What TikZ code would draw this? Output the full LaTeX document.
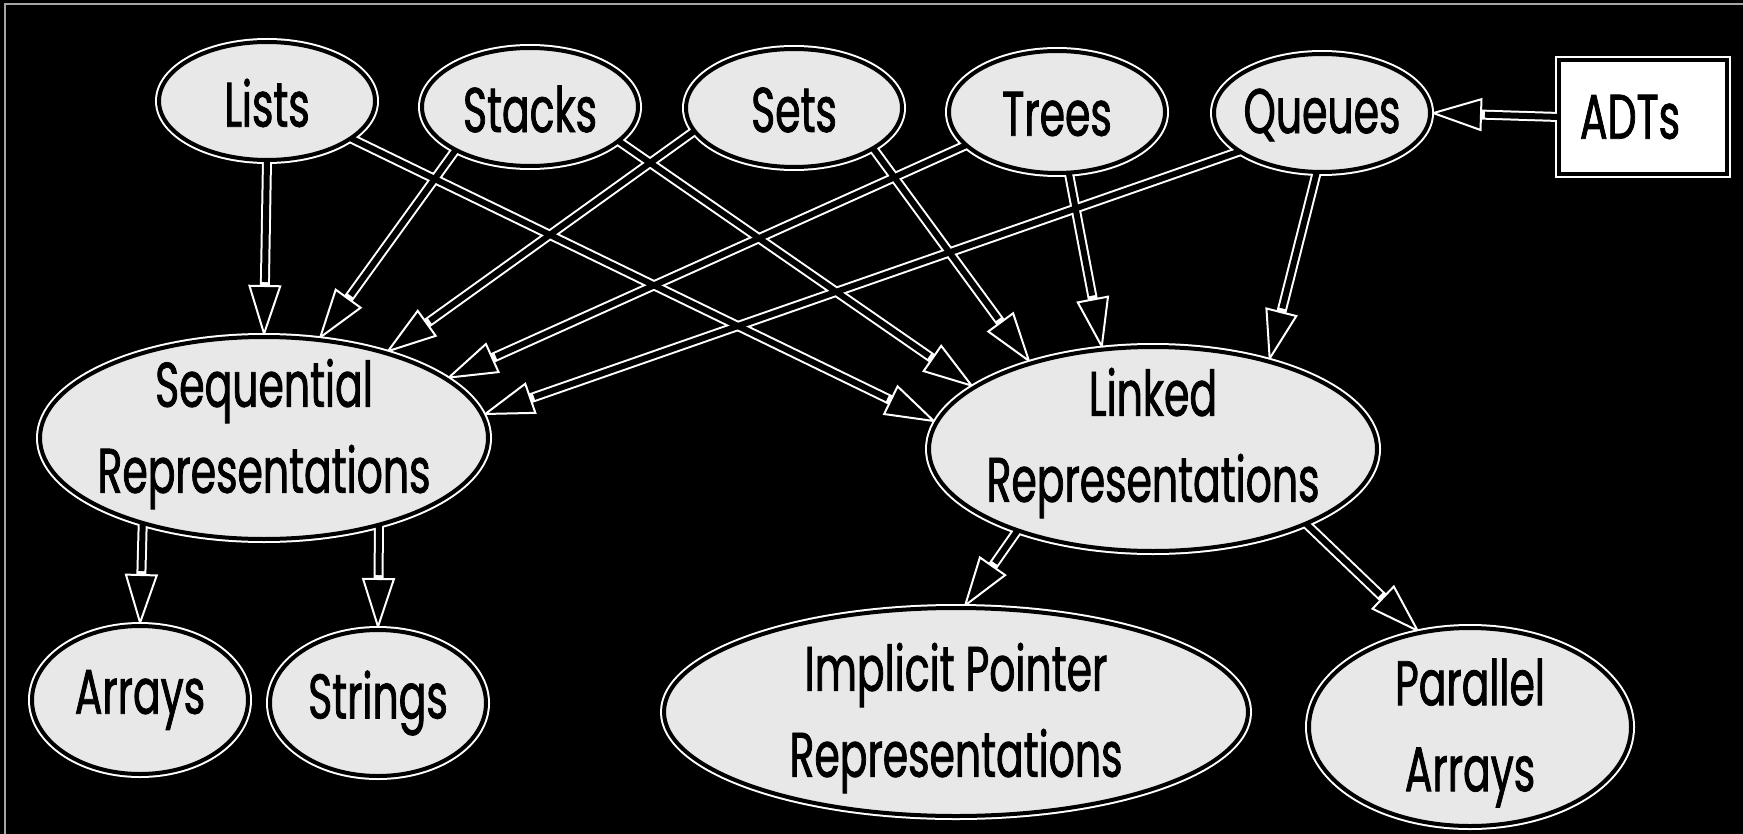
\documentclass[tikz,border=0pt]{standalone}
\usepackage{fontspec}
\newfontfamily\bubblefont[FakeStretch=0.65, FakeBold=1.2]{Poppins}
\usetikzlibrary{arrows.meta,shapes.geometric,calc}
\pgfdeclarelayer{back}
\pgfdeclarelayer{halo}
\pgfdeclarelayer{wires}
\pgfdeclarelayer{cores}
\pgfsetlayers{back,halo,wires,cores,main}

\begin{document}
\begin{tikzpicture}[x=0.5pt,y=-0.5pt,
  bubble/.style={ellipse, draw=black, line width=2pt, fill=black!9, inner sep=0pt, outer sep=0pt},
  topbubble/.style={bubble, minimum width=108pt, minimum height=59pt},
  adtbox/.style={rectangle, draw=black, line width=2pt, fill=white, inner sep=0pt, outer sep=0pt,
    minimum width=84pt, minimum height=57pt},
  txt/.style={font=\bubblefont\fontsize{31.5pt}{43pt}\selectfont, align=center, inner sep=0pt, text=black},
  wire/.style={draw=white, line width=5pt, -{Triangle[length=26pt, width=16.5pt, fill=black, line width=1pt]}},
  core/.style={draw=black, line width=3pt, shorten >=27.5pt},
]
\useasboundingbox (0,0) rectangle (1743,834);

% black ground with the thin frame at the left and top
\begin{pgfonlayer}{back}
  \fill[black] (0,0) rectangle (1743,834);
  \draw[gray!70, line width=1pt] (5,834) -- (5,4) -- (1743,4);
\end{pgfonlayer}

% abstract data types
\node[topbubble] (lists)  at (267,101) {};
\node[topbubble] (stacks) at (530,107) {};
\node[topbubble] (sets)   at (794,108) {};
\node[topbubble, minimum height=61pt] (trees) at (1057,112) {};
\node[topbubble] (queues) at (1322,113) {};
\node[adtbox] (adts) at (1643,117) {};

% representations
\node[bubble, minimum width=224pt, minimum height=101pt] (seq)      at (264,438) {};
\node[bubble, minimum width=224pt, minimum height=102pt] (linked)   at (1153,449) {};
\node[bubble, minimum width=108pt, minimum height=74pt]  (arrays)   at (140,700) {};
\node[bubble, minimum width=108pt, minimum height=73pt]  (strings)  at (378,703) {};
\node[bubble, minimum width=292pt, minimum height=104pt] (implicit) at (956,712) {};
\node[bubble, minimum width=161pt, minimum height=99pt]  (parallel) at (1470,727) {};

% captions
\node[txt] (lists-t)    at ([yshift=-1pt]lists)  {Lists};
\node[txt] (stacks-t)   at ([yshift=-1pt]stacks) {Stacks};
\node[txt] (sets-t)     at ([yshift=-1pt]sets)   {Sets};
\node[txt] (trees-t)    at ([yshift=-1pt]trees)  {Trees};
\node[txt] (queues-t)   at ([yshift=-1pt]queues) {Queues};
\node[txt] (adts-t)     at (1630,117) {ADTs};
\node[txt] (seq-t)      at ([yshift=2pt]seq)      {Sequential\\Representations};
\node[txt] (linked-t)   at ([yshift=3pt]linked)   {Linked\\Representations};
\node[txt] (arrays-t)   at (arrays)   {Arrays};
\node[txt] (strings-t)  at (strings)  {Strings};
\node[txt] (implicit-t) at ([yshift=-3pt]implicit) {Implicit Pointer\\Representations};
\node[txt] (parallel-t) at ([yshift=-3pt]parallel) {Parallel\\Arrays};

% white rims round the shapes, under the connectors
\begin{pgfonlayer}{halo}
  \foreach \nd in {lists,stacks,sets,trees,queues,seq,linked,arrays,strings,implicit,parallel}
    \draw[white, line width=4pt] let \p1=(\nd.center), \p2=(\nd.east), \p3=(\nd.north) in
      (\p1) ellipse [x radius=\x2-\x1, y radius=\y3-\y1];
  \draw[white, line width=4pt] (adts.south west) rectangle (adts.north east);
\end{pgfonlayer}

\def\links{lists.-90/seq.90, lists.-24/linked.173,
  stacks.-150/seq.61, stacks.-21/linked.161,
  sets.-167/seq.35, sets.-27/linked.145,
  trees.-160/seq.18, trees.-79/linked.117,
  queues.-155/seq.6, queues.-95/linked.37,
  adts.west/queues.east,
  seq.-145/arrays.north, seq.-37/strings.north,
  linked.-149/implicit.86, linked.-26/parallel.118}

% connectors: white outline with the arrow tips, then the black cores
\begin{pgfonlayer}{wires}
  \foreach \a/\b in \links \draw[wire] (\a) -- (\b);
\end{pgfonlayer}
\begin{pgfonlayer}{cores}
  \foreach \a/\b in \links \draw[core] (\a) -- (\b);
\end{pgfonlayer}
\end{tikzpicture}
\end{document}
